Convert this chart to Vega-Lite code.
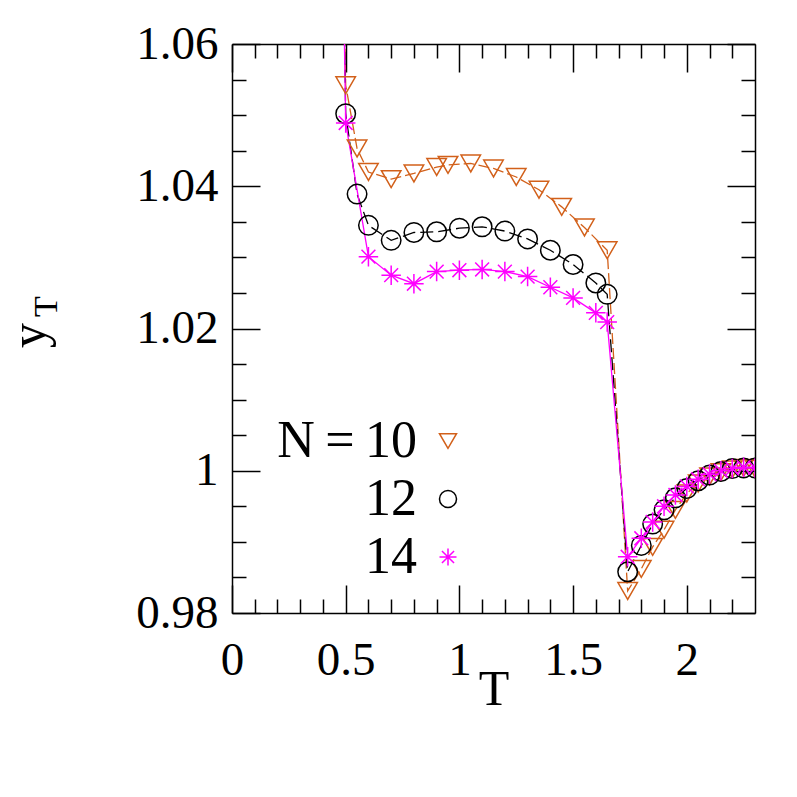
{
  "$schema": "https://vega.github.io/schema/vega-lite/v6.json",
  "width": 523,
  "height": 569,
  "autosize": {"type": "none"},
  "padding": {"left": 232, "top": 44, "right": 42, "bottom": 184},
  "background": "white",
  "config": {
    "view": {"stroke": null},
    "axis": {
      "labelFont": "Liberation Serif",
      "titleFont": "Liberation Serif",
      "titleFontWeight": "normal",
      "domainColor": "black",
      "tickColor": "black",
      "labelColor": "black",
      "titleColor": "black",
      "grid": false,
      "domainWidth": 1.5,
      "tickWidth": 1.5,
      "labelFlush": false,
      "labelOverlap": false
    }
  },
  "data": {
    "values": [
      {"N": "10", "T": 0.45, "y": 1.15},
      {"N": "10", "T": 0.5, "y": 1.0542},
      {"N": "10", "T": 0.55, "y": 1.0453},
      {"N": "10", "T": 0.6, "y": 1.042},
      {"N": "10", "T": 0.7, "y": 1.041},
      {"N": "10", "T": 0.8, "y": 1.0418},
      {"N": "10", "T": 0.9, "y": 1.0427},
      {"N": "10", "T": 0.95, "y": 1.043},
      {"N": "10", "T": 1.05, "y": 1.0432},
      {"N": "10", "T": 1.15, "y": 1.0425},
      {"N": "10", "T": 1.25, "y": 1.0413},
      {"N": "10", "T": 1.35, "y": 1.0395},
      {"N": "10", "T": 1.45, "y": 1.0371},
      {"N": "10", "T": 1.55, "y": 1.0342},
      {"N": "10", "T": 1.65, "y": 1.031},
      {"N": "10", "T": 1.74, "y": 0.9831},
      {"N": "10", "T": 1.8, "y": 0.9862},
      {"N": "10", "T": 1.85, "y": 0.9893},
      {"N": "10", "T": 1.9, "y": 0.9917},
      {"N": "10", "T": 1.95, "y": 0.9945},
      {"N": "10", "T": 2.0, "y": 0.9968},
      {"N": "10", "T": 2.05, "y": 0.9982},
      {"N": "10", "T": 2.1, "y": 0.9992},
      {"N": "10", "T": 2.15, "y": 0.9998},
      {"N": "10", "T": 2.2, "y": 1.0002},
      {"N": "10", "T": 2.25, "y": 1.0004},
      {"N": "10", "T": 2.3, "y": 1.0003},
      {"N": "12", "T": 0.45, "y": 1.15},
      {"N": "12", "T": 0.5, "y": 1.0502},
      {"N": "12", "T": 0.55, "y": 1.0389},
      {"N": "12", "T": 0.6, "y": 1.0345},
      {"N": "12", "T": 0.7, "y": 1.0324},
      {"N": "12", "T": 0.8, "y": 1.0335},
      {"N": "12", "T": 0.9, "y": 1.0336},
      {"N": "12", "T": 1.0, "y": 1.0341},
      {"N": "12", "T": 1.1, "y": 1.0343},
      {"N": "12", "T": 1.2, "y": 1.0337},
      {"N": "12", "T": 1.3, "y": 1.0326},
      {"N": "12", "T": 1.4, "y": 1.031},
      {"N": "12", "T": 1.5, "y": 1.029},
      {"N": "12", "T": 1.6, "y": 1.0264},
      {"N": "12", "T": 1.65, "y": 1.0248},
      {"N": "12", "T": 1.74, "y": 0.9858},
      {"N": "12", "T": 1.8, "y": 0.9895},
      {"N": "12", "T": 1.85, "y": 0.9925},
      {"N": "12", "T": 1.9, "y": 0.9945},
      {"N": "12", "T": 1.95, "y": 0.9962},
      {"N": "12", "T": 2.0, "y": 0.9975},
      {"N": "12", "T": 2.05, "y": 0.9986},
      {"N": "12", "T": 2.1, "y": 0.9994},
      {"N": "12", "T": 2.15, "y": 0.9999},
      {"N": "12", "T": 2.2, "y": 1.0003},
      {"N": "12", "T": 2.25, "y": 1.0004},
      {"N": "12", "T": 2.3, "y": 1.0004},
      {"N": "14", "T": 0.45, "y": 1.15},
      {"N": "14", "T": 0.5, "y": 1.0489},
      {"N": "14", "T": 0.6, "y": 1.0301},
      {"N": "14", "T": 0.7, "y": 1.0275},
      {"N": "14", "T": 0.8, "y": 1.0263},
      {"N": "14", "T": 0.9, "y": 1.028},
      {"N": "14", "T": 1.0, "y": 1.0282},
      {"N": "14", "T": 1.1, "y": 1.0283},
      {"N": "14", "T": 1.2, "y": 1.028},
      {"N": "14", "T": 1.3, "y": 1.0273},
      {"N": "14", "T": 1.4, "y": 1.0258},
      {"N": "14", "T": 1.5, "y": 1.0243},
      {"N": "14", "T": 1.6, "y": 1.0222},
      {"N": "14", "T": 1.65, "y": 1.0209},
      {"N": "14", "T": 1.74, "y": 0.9879},
      {"N": "14", "T": 1.8, "y": 0.9905},
      {"N": "14", "T": 1.85, "y": 0.9928},
      {"N": "14", "T": 1.9, "y": 0.995},
      {"N": "14", "T": 1.95, "y": 0.9966},
      {"N": "14", "T": 2.0, "y": 0.9978},
      {"N": "14", "T": 2.05, "y": 0.9988},
      {"N": "14", "T": 2.1, "y": 0.9995},
      {"N": "14", "T": 2.15, "y": 1.0},
      {"N": "14", "T": 2.2, "y": 1.0003},
      {"N": "14", "T": 2.25, "y": 1.0005},
      {"N": "14", "T": 2.3, "y": 1.0004}
    ]
  },
  "resolve": {"axis": {"x": "independent", "y": "independent"}},
  "layer": [
    {
      "transform": [{"filter": "datum.N == '10'"}],
      "mark": {"type": "line", "clip": true, "strokeWidth": 1.3, "color": "#d2601a", "strokeDash": [11, 4]},
      "encoding": {
        "x": {
          "field": "T", "type": "quantitative",
          "scale": {"domain": [0, 2.3], "nice": false, "zero": false},
          "axis": {
            "orient": "bottom", "values": [0, 0.5, 1, 1.5, 2], "format": "~g",
            "tickSize": -28, "labelPadding": 52, "labelFontSize": 47,
            "domain": true,
            "title": "T", "titleFontSize": 50, "titleX": 261.5, "titleY": 91,
            "titleAlign": "center", "titleBaseline": "alphabetic"
          }
        },
        "y": {
          "field": "y", "type": "quantitative",
          "scale": {"domain": [0.98, 1.06], "nice": false, "zero": false},
          "axis": {
            "orient": "left", "values": [0.98, 1, 1.02, 1.04, 1.06], "format": "~g",
            "tickSize": -28, "labelPadding": 42, "labelFontSize": 47,
            "domain": true,
            "title": "y", "titleFontSize": 50, "titleAngle": -90,
            "titleX": -188, "titleY": 291, "titleAlign": "center", "titleBaseline": "alphabetic"
          }
        },
        "order": {"field": "T", "type": "quantitative"}
      }
    },
    {
      "transform": [{"filter": "datum.N == '12'"}],
      "mark": {"type": "line", "clip": true, "strokeWidth": 1.3, "color": "#000000", "strokeDash": [13, 5]},
      "encoding": {
        "x": {
          "field": "T", "type": "quantitative",
          "axis": {
            "orient": "bottom",
            "values": [0.1, 0.2, 0.3, 0.4, 0.6, 0.7, 0.8, 0.9, 1.1, 1.2, 1.3, 1.4, 1.6, 1.7, 1.8, 1.9, 2.1, 2.2],
            "tickSize": -14, "labels": false, "domain": false, "title": null
          }
        },
        "y": {
          "field": "y", "type": "quantitative",
          "axis": {
            "orient": "left",
            "values": [0.985, 0.99, 0.995, 1.005, 1.01, 1.015, 1.025, 1.03, 1.035, 1.045, 1.05, 1.055],
            "tickSize": -14, "labels": false, "domain": false,
            "title": "T", "titleFontSize": 34, "titleAngle": -90,
            "titleX": -176, "titleY": 262, "titleAlign": "center", "titleBaseline": "alphabetic"
          }
        },
        "order": {"field": "T", "type": "quantitative"}
      }
    },
    {
      "transform": [{"filter": "datum.N == '14'"}],
      "mark": {"type": "line", "clip": true, "strokeWidth": 1.3, "color": "#ff00ff"},
      "encoding": {
        "x": {
          "field": "T", "type": "quantitative",
          "axis": {"orient": "top", "values": [0, 0.5, 1, 1.5, 2], "tickSize": -28, "labels": false, "domain": true, "title": null}
        },
        "y": {
          "field": "y", "type": "quantitative",
          "axis": {"orient": "right", "values": [0.98, 1, 1.02, 1.04, 1.06], "tickSize": -28, "labels": false, "domain": true, "title": null}
        },
        "order": {"field": "T", "type": "quantitative"}
      }
    },
    {
      "mark": {"type": "point", "clip": true, "filled": false, "strokeWidth": 1.5, "opacity": 1, "size": 380},
      "encoding": {
        "x": {
          "field": "T", "type": "quantitative",
          "axis": {
            "orient": "top",
            "values": [0.1, 0.2, 0.3, 0.4, 0.6, 0.7, 0.8, 0.9, 1.1, 1.2, 1.3, 1.4, 1.6, 1.7, 1.8, 1.9, 2.1, 2.2],
            "tickSize": -14, "labels": false, "domain": false, "title": null
          }
        },
        "y": {
          "field": "y", "type": "quantitative",
          "axis": {
            "orient": "right",
            "values": [0.985, 0.99, 0.995, 1.005, 1.01, 1.015, 1.025, 1.03, 1.035, 1.045, 1.05, 1.055],
            "tickSize": -14, "labels": false, "domain": false, "title": null
          }
        },
        "color": {
          "field": "N", "type": "nominal",
          "scale": {"domain": ["10", "12", "14"], "range": ["#d2601a", "#000000", "#ff00ff"]},
          "legend": {
            "orient": "none", "legendX": 190, "legendY": 371, "title": null,
            "labelFont": "Liberation Serif", "labelFontSize": 52, "labelColor": "black",
            "labelAlign": "right", "labelOffset": -57, "labelLimit": 0,
            "symbolSize": 290, "symbolStrokeWidth": 1.5, "rowPadding": 6,
            "labelExpr": "datum.label == '10' ? 'N\u2009=\u200910' : datum.label"
          }
        },
        "shape": {
          "field": "N", "type": "nominal",
          "scale": {
            "domain": ["10", "12", "14"],
            "range": ["triangle-down", "circle", "M-1,0L1,0M0,-1L0,1M-0.71,-0.71L0.71,0.71M-0.71,0.71L0.71,-0.71"]
          },
          "legend": {
            "orient": "none", "legendX": 190, "legendY": 371, "title": null,
            "labelFont": "Liberation Serif", "labelFontSize": 52, "labelColor": "black",
            "labelAlign": "right", "labelOffset": -57, "labelLimit": 0,
            "symbolSize": 290, "symbolStrokeWidth": 1.5, "rowPadding": 6,
            "labelExpr": "datum.label == '10' ? 'N\u2009=\u200910' : datum.label"
          }
        }
      }
    }
  ]
}
